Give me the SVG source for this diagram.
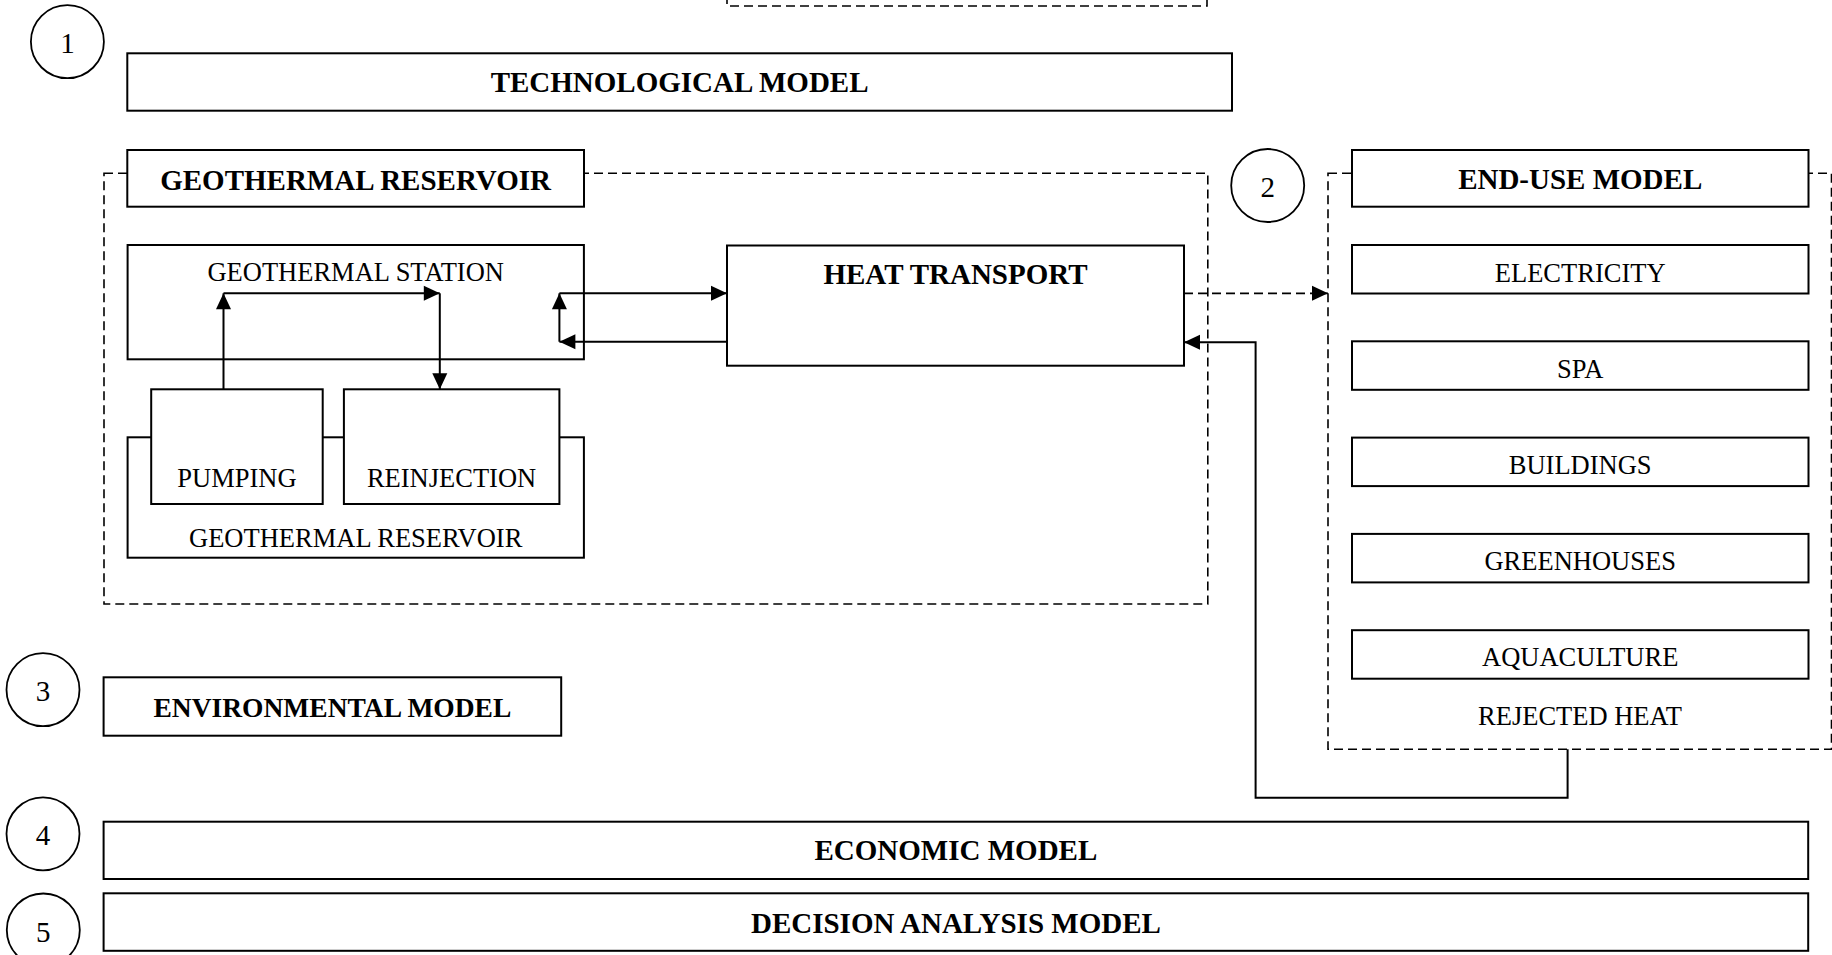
<svg xmlns="http://www.w3.org/2000/svg" width="1832" height="955" viewBox="0 0 1832 955">
<style>
.bg{fill:#fff}
.box{fill:#fff;stroke:#000;stroke-width:2}
.dash{fill:none;stroke:#000;stroke-width:1.6;stroke-dasharray:9 5}
.circ{fill:#fff;stroke:#000;stroke-width:1.8}
.ln{fill:none;stroke:#000;stroke-width:2}
.dln{fill:none;stroke:#000;stroke-width:1.8;stroke-dasharray:9 5}
text{font-family:"Liberation Serif","Times New Roman",serif;fill:#000;text-anchor:middle}
.hb{font-weight:bold;font-size:29px}
.hr{font-size:26.5px}
.num{font-size:29px}
</style>
<defs>
<marker id="ah" markerUnits="userSpaceOnUse" markerWidth="16" markerHeight="15" refX="16" refY="7.5" orient="auto" overflow="visible">
<path d="M0,0 L16,7.5 L0,15 Z" fill="#000"/>
</marker>
</defs>
<rect class="bg" x="0" y="0" width="1832" height="955"/>

<g id="frames">
<path id="top-frame" class="dash" d="M727,-5 V6 H1207 V-5"/>
<rect id="geothermal-frame" class="dash" x="104" y="173.3" width="1103.8" height="430.7"/>
<rect id="enduse-frame" class="dash" x="1328" y="173.3" width="503.5" height="576"/>
</g>

<g id="circle-1"><circle class="circ" cx="67.4" cy="41.7" r="36.5"/><text class="num" x="67.4" y="53">1</text></g>
<g id="circle-2"><circle class="circ" cx="1267.7" cy="185.5" r="36.5"/><text class="num" x="1267.7" y="197">2</text></g>
<g id="circle-3"><circle class="circ" cx="43" cy="689.7" r="36.5"/><text class="num" x="43" y="701.2">3</text></g>
<g id="circle-4"><circle class="circ" cx="43" cy="833.8" r="36.5"/><text class="num" x="43" y="845.3">4</text></g>
<g id="circle-5"><circle class="circ" cx="43.3" cy="930" r="36.5"/><text class="num" x="43.3" y="941.5">5</text></g>

<g id="technological-model"><rect class="box" x="127.3" y="53.3" width="1104.7" height="57.4"/><text class="hb" x="679.6" y="91.5">TECHNOLOGICAL MODEL</text></g>

<g id="geothermal-reservoir-header"><rect class="box" x="127.3" y="150" width="456.7" height="56.7"/><text class="hb" x="355.6" y="189.5">GEOTHERMAL RESERVOIR</text></g>

<g id="geothermal-station"><rect class="box" x="127.6" y="245" width="456.3" height="114.3"/><text class="hr" x="355.7" y="281">GEOTHERMAL STATION</text></g>

<g id="geothermal-reservoir"><rect class="box" x="127.6" y="437.3" width="456.3" height="120.4"/><text class="hr" x="355.7" y="547">GEOTHERMAL RESERVOIR</text></g>

<g id="pumping"><rect class="box" x="151.2" y="389.3" width="171.5" height="114.7"/><text class="hr" x="237" y="487">PUMPING</text></g>

<g id="reinjection"><rect class="box" x="343.9" y="389.3" width="215.5" height="114.7"/><text class="hr" x="451.6" y="487">REINJECTION</text></g>

<g id="heat-transport"><rect class="box" x="727" y="245.5" width="457" height="120.2"/><text class="hb" x="955.5" y="284">HEAT TRANSPORT</text></g>

<g id="end-use-model"><rect class="box" x="1352" y="150" width="456.5" height="56.7"/><text class="hb" x="1580.2" y="189.3">END-USE MODEL</text></g>

<g id="electricity"><rect class="box" x="1352" y="245" width="456.5" height="48.5"/><text class="hr" x="1580.2" y="281.7">ELECTRICITY</text></g>
<g id="spa"><rect class="box" x="1352" y="341.3" width="456.5" height="48.5"/><text class="hr" x="1580.2" y="377.5">SPA</text></g>
<g id="buildings"><rect class="box" x="1352" y="437.6" width="456.5" height="48.5"/><text class="hr" x="1580.2" y="473.5">BUILDINGS</text></g>
<g id="greenhouses"><rect class="box" x="1352" y="533.9" width="456.5" height="48.5"/><text class="hr" x="1580.2" y="569.5">GREENHOUSES</text></g>
<g id="aquaculture"><rect class="box" x="1352" y="630.2" width="456.5" height="48.5"/><text class="hr" x="1580.2" y="665.5">AQUACULTURE</text></g>
<g id="rejected-heat"><text class="hr" x="1580" y="725">REJECTED HEAT</text></g>

<g id="environmental-model"><rect class="box" x="103.6" y="677.3" width="457.6" height="58.4"/><text class="hb" x="332.4" y="716.5" style="font-size:27.5px">ENVIRONMENTAL MODEL</text></g>

<g id="economic-model"><rect class="box" x="103.6" y="821.7" width="1704.6" height="57.3"/><text class="hb" x="955.9" y="860">ECONOMIC MODEL</text></g>

<g id="decision-analysis-model"><rect class="box" x="103.6" y="893.3" width="1704.6" height="57.5"/><text class="hb" x="955.9" y="933">DECISION ANALYSIS MODEL</text></g>

<g id="connectors">
<path class="ln" d="M223.5,389.3 V293.3" marker-end="url(#ah)"/>
<path class="ln" d="M223.5,293.3 H439.8" marker-end="url(#ah)"/>
<path class="ln" d="M439.8,293.3 V389.3" marker-end="url(#ah)"/>
<path class="ln" d="M559.4,341.7 V293.3" marker-end="url(#ah)"/>
<path class="ln" d="M559.4,293.3 H727" marker-end="url(#ah)"/>
<path class="ln" d="M727,341.7 H559.4" marker-end="url(#ah)"/>
<path class="dln" d="M1184,293.3 H1328" marker-end="url(#ah)"/>
<path class="ln" d="M1567.6,749.3 V797.7 H1255.6 V342.3 H1184" marker-end="url(#ah)"/>
</g>
</svg>
